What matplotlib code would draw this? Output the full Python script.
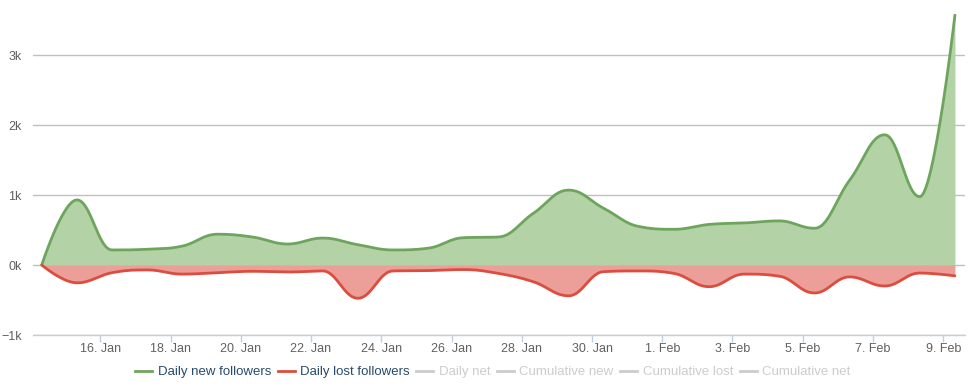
import numpy as np
import matplotlib
matplotlib.use("Agg")
import matplotlib.pyplot as plt
import matplotlib.dates as mdates
from matplotlib.lines import Line2D
import datetime as dt

plt.rcParams["font.family"] = ["Liberation Sans", "DejaVu Sans"]

# one point per day, 14 Jan .. 9 Feb (sampled at 08:00)
start = dt.datetime(2014, 1, 14, 8)
new_followers = [0, 930, 215, 225, 270, 440, 400, 300, 385, 290, 215, 240, 390, 400,
                 740, 1070, 810, 550, 510, 580, 600, 630, 525, 1210, 1860, 975, 3570]
lost_followers = [0, -255, -110, -70, -130, -110, -90, -100, -85, -475, -85, -80, -65, -120,
                  -240, -440, -95, -85, -120, -310, -130, -160, -400, -170, -300, -115, -155]
legend_labels = ["Daily new followers", "Daily lost followers", "Daily net",
                 "Cumulative new", "Cumulative lost", "Cumulative net"]

dates = [start + dt.timedelta(days=i) for i in range(len(new_followers))]
xs = mdates.date2num(dates)


def spline(x, y, smoothing=1.5, n=30):
    # Highcharts-style spline: bezier segments with control points on a line through each point
    x = np.asarray(x, float)
    y = np.asarray(y, float)
    m = len(x)
    lcx, lcy, rcx, rcy = x.copy(), y.copy(), x.copy(), y.copy()
    d = smoothing + 1
    for i in range(1, m - 1):
        lx = (smoothing * x[i] + x[i - 1]) / d
        ly = (smoothing * y[i] + y[i - 1]) / d
        rx = (smoothing * x[i] + x[i + 1]) / d
        ry = (smoothing * y[i] + y[i + 1]) / d
        corr = (ry - ly) * (rx - x[i]) / (rx - lx) + y[i] - ry
        ly += corr
        ry += corr
        if ly > y[i - 1] and ly > y[i]:
            ly = max(y[i - 1], y[i]); ry = 2 * y[i] - ly
        elif ly < y[i - 1] and ly < y[i]:
            ly = min(y[i - 1], y[i]); ry = 2 * y[i] - ly
        if ry > y[i + 1] and ry > y[i]:
            ry = max(y[i + 1], y[i]); ly = 2 * y[i] - ry
        elif ry < y[i + 1] and ry < y[i]:
            ry = min(y[i + 1], y[i]); ly = 2 * y[i] - ry
        lcx[i], lcy[i], rcx[i], rcy[i] = lx, ly, rx, ry
    t = np.linspace(0, 1, n)[:, None]
    px, py = [], []
    for i in range(1, m):
        P = np.array([[x[i - 1], y[i - 1]], [rcx[i - 1], rcy[i - 1]],
                      [lcx[i], lcy[i]], [x[i], y[i]]])
        B = ((1 - t) ** 3) * P[0] + 3 * ((1 - t) ** 2) * t * P[1] + 3 * (1 - t) * t ** 2 * P[2] + t ** 3 * P[3]
        px.append(B[:, 0]); py.append(B[:, 1])
    return np.concatenate(px), np.concatenate(py)


green, green_fill = "#6ea55e", "#b3d2a5"
red, red_fill = "#dc4d3f", "#eb9f98"

fig = plt.figure(figsize=(9.74, 3.88), dpi=100)
ax = fig.add_axes([33 / 974, (388 - 335) / 388, (965 - 33) / 974, 325 / 388])

gx, gy = spline(xs, new_followers)
rx, ry = spline(xs, lost_followers)
ax.fill_between(gx, gy, 0, color=green_fill, lw=0, zorder=2)
ax.fill_between(rx, ry, 0, color=red_fill, lw=0, zorder=2)
ax.plot(gx, gy, color=green, lw=2, zorder=3, solid_capstyle="round")
ax.plot(rx, ry, color=red, lw=2, zorder=3, solid_capstyle="round")

x0 = mdates.date2num(dt.datetime(2014, 1, 16))
ax.set_xlim(x0 - 1.916, x0 + 24.62)
ax.set_ylim(-1000, 3643)

ax.set_yticks([-1000, 0, 1000, 2000, 3000])
ax.set_yticklabels(["\u22121k", "0k", "1k", "2k", "3k"])
ax.yaxis.grid(True, color="#c0c0c0", lw=1, zorder=1)
ax.tick_params(axis="y", length=0, pad=8, labelsize=9, labelcolor="#606060")

ticks = [dt.datetime(2014, 1, 16) + dt.timedelta(days=2 * k) for k in range(13)]
ax.set_xticks(mdates.date2num(ticks))
ax.set_xticklabels([f"{d.day}. {d.strftime('%b')}" for d in ticks])
ax.tick_params(axis="x", length=5, width=1, color="#c0d0e0", labelsize=9,
               labelcolor="#606060", pad=1)

for s in ["top", "right", "left"]:
    ax.spines[s].set_visible(False)
ax.spines["bottom"].set_color("#c0d0e0")
ax.spines["bottom"].set_linewidth(1)

colors = [green, red] + ["#cccccc"] * 4
handles = [Line2D([0], [0], color=c, lw=2) for c in colors]
leg = fig.legend(handles, legend_labels, loc="center", bbox_to_anchor=(0.506, 16 / 388),
                 ncol=6, frameon=False, fontsize=9.5, handlelength=1.3, handletextpad=0.4,
                 columnspacing=0.5)
for txt, c in zip(leg.get_texts(), ["#274b6d", "#274b6d"] + ["#cccccc"] * 4):
    txt.set_color(c)

fig.savefig("out.png", dpi=100)
